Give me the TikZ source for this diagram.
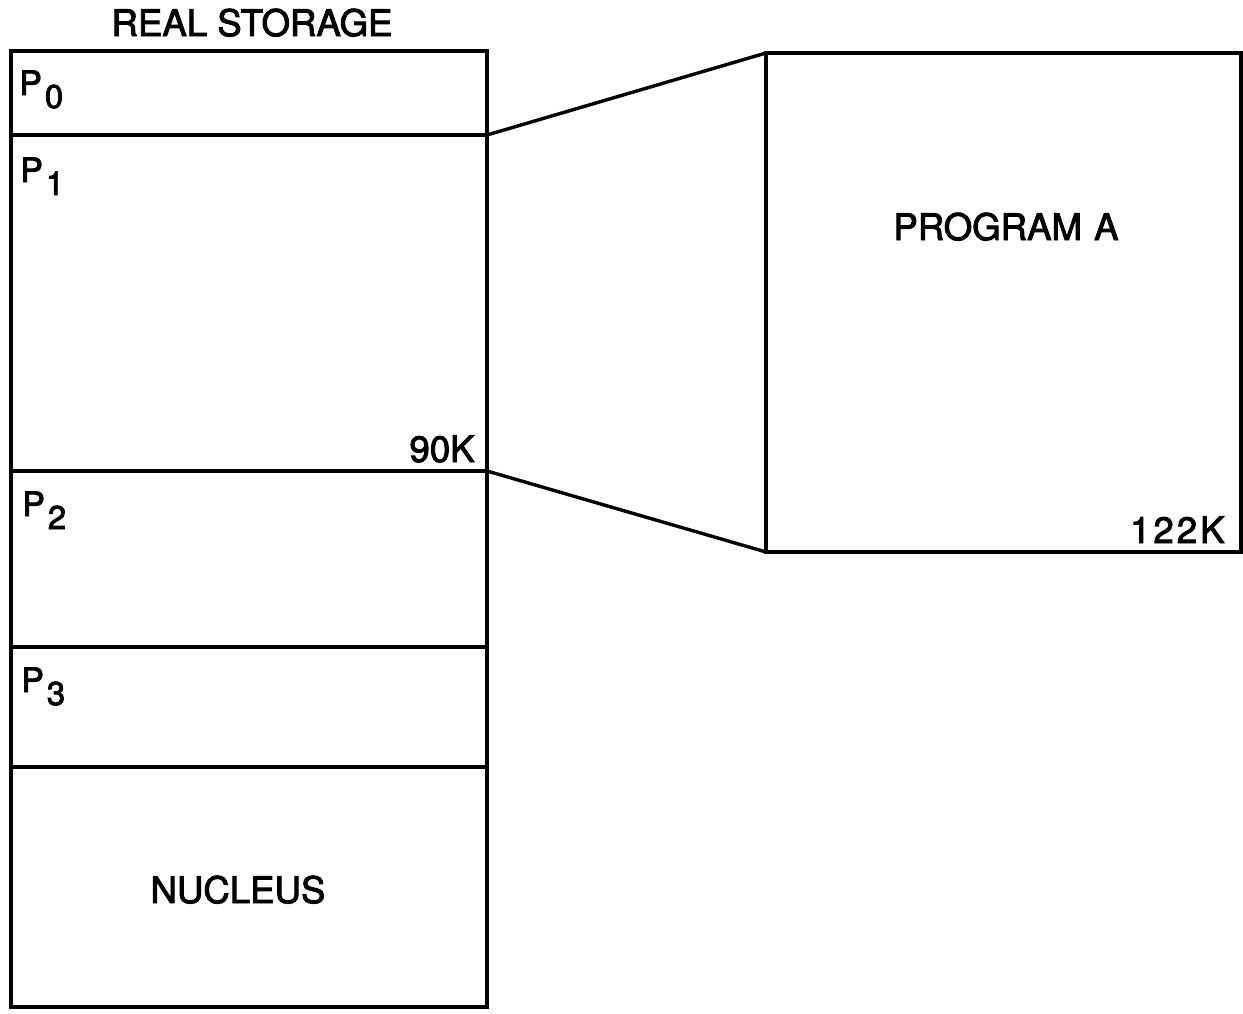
\documentclass[tikz,border=0pt]{standalone}
\usepackage{fontspec}
\setmainfont{TeX Gyre Heros}[FakeBold=2.5]
\newcommand{\lbl}{\fontsize{18.3}{20}\selectfont}
\newcommand{\psub}[1]{\scalebox{0.92}{P}\hspace{1.5pt}\raisebox{-6.5pt}{\scalebox{0.9}{#1}}}
\begin{document}
\begin{tikzpicture}[x=0.5pt,y=-0.5pt,
  seg/.style={draw,line width=1.7pt,rectangle,inner sep=0pt,outer sep=0pt,anchor=north west,minimum width=238pt},
  link/.style={line width=1.7pt,line join=miter},
  txt/.style={font=\lbl,inner sep=0pt},
  plbl/.style={font=\lbl,inner sep=0pt,anchor=base west}]
\useasboundingbox (0,0) rectangle (1243,1013);
\fill[white] (0,0) rectangle (1243,1013);
% real storage column
\node[seg,minimum height=42pt]  (p0) at (11,51)  {};
\node[seg,minimum height=168pt] (p1) at (11,135) {};
\node[seg,minimum height=88pt]  (p2) at (11,471) {};
\node[seg,minimum height=60pt]  (p3) at (11,647) {};
\node[seg,minimum height=120pt] (nuc) at (11,767) {};
% program A box
\node[seg,minimum width=237.5pt,minimum height=249.5pt] (prog) at (766,53) {};
% connectors
\draw[link] (p0.south east) -- (prog.north west);
\draw[link] (p1.south east) -- (prog.south west);
% labels
\node[txt,anchor=base] (title) at (252,36) {REAL STORAGE};
\node[plbl] (l0) at (19,95)  {\psub{0}};
\node[plbl] (l1) at (20,182) {\psub{1}};
\node[plbl] (l2) at (22,516) {\psub{2}};
\node[plbl] (l3) at (21,692) {\psub{3}};
\node[txt,anchor=base east] (k90) at (475,462) {90K};
\node[txt,anchor=base] (nuct) at (238,903) {NUCLEUS};
\node[txt,anchor=base] (progt) at (1006,240) {PROGRAM\hspace{1pt} A};
\node[txt,anchor=base east] (k122) at (1225,543) {1\hspace{1.5pt}2\hspace{1.5pt}2\hspace{1.5pt}K};
\end{tikzpicture}
\end{document}
